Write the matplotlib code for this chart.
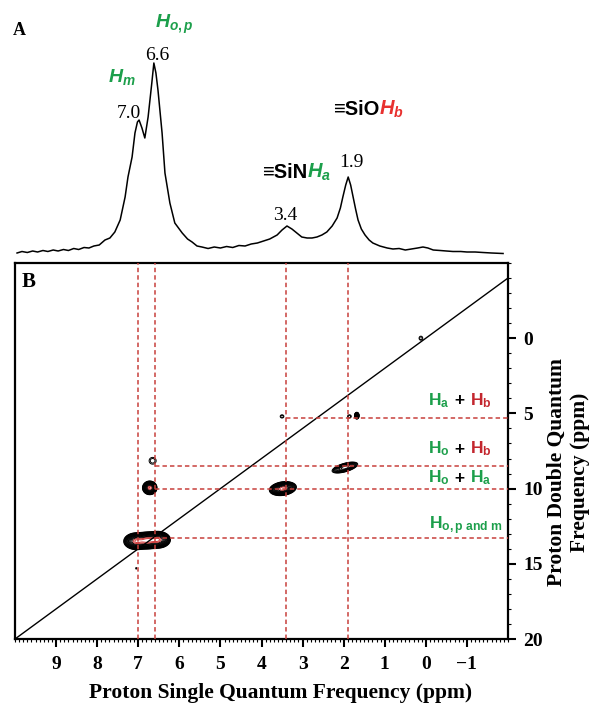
import numpy as np
import matplotlib
matplotlib.use("Agg")
import matplotlib.pyplot as plt
from matplotlib import transforms
from matplotlib.ticker import MultipleLocator

# ---- panel A: 1H MAS spectrum (ppm, intensity a.u.)
spec_ppm = [9.95, 9.83, 9.70, 9.57, 9.45, 9.32, 9.20, 9.07, 8.95, 8.82, 8.70, 8.57,
            8.45, 8.32, 8.20, 8.08, 7.95, 7.81, 7.69, 7.57, 7.44, 7.32, 7.25, 7.15,
            7.08, 7.02, 6.98, 6.91, 6.84, 6.76, 6.67, 6.62, 6.57, 6.52, 6.42, 6.35,
            6.23, 6.11, 5.93, 5.80, 5.69, 5.57, 5.45, 5.30, 5.15, 5.00, 4.85, 4.70,
            4.55, 4.40, 4.25, 4.10, 3.95, 3.80, 3.62, 3.50, 3.38, 3.26, 3.14, 3.02,
            2.89, 2.77, 2.65, 2.53, 2.41, 2.28, 2.16, 2.08, 2.02, 1.95, 1.89, 1.83,
            1.77, 1.71, 1.65, 1.57, 1.48, 1.38, 1.29, 1.12, 0.94, 0.80, 0.65, 0.50,
            0.35, 0.20, 0.07, -0.05, -0.18, -0.35, -0.50, -0.66, -0.85, -1.00, -1.20, -1.39,
            -1.60, -1.88]
spec_int = [0, 1.5, 0.5, 2, 1, 2.5, 1.5, 3, 2, 3.5, 2.5, 4.5,
            3.5, 5.5, 5, 7, 8, 13, 15, 21, 33, 56, 76, 96,
            120, 131, 133, 125, 115, 136, 170, 190, 180, 163, 120, 80,
            50, 30, 20, 14, 11, 7, 6, 4.5, 6, 5, 6.5, 5.5,
            7.5, 7, 9, 10, 12, 14, 18, 23, 27, 24, 20, 16,
            15, 15, 16, 18, 21, 27, 35, 45, 56, 68, 76, 68,
            56, 44, 33, 24, 18, 13, 10, 7, 5, 4, 4.5, 3,
            4, 5, 6, 5, 3, 2.5, 2, 1.5, 1.5, 1, 1, 0.5,
            0, -0.5]

# ---- panel B: DQ-SQ correlation peaks (SQ ppm, DQ ppm, widths, amplitude, tilt)
pk_sq = [7.05, 6.78, 6.52, 6.72, 6.65, 3.48, 1.97, 3.50, 1.86, 1.68, 0.12, 7.05]
pk_dq = [13.5, 13.45, 13.4, 9.95, 8.15, 10.0, 8.6, 5.2, 5.2, 5.15, 0.0, 15.3]
pk_wsq = [0.12, 0.12, 0.12, 0.07, 0.095, 0.13, 0.15, 0.05, 0.05, 0.025, 0.05, 0.02]
pk_wdq = [0.22, 0.22, 0.22, 0.18, 0.25, 0.18, 0.14, 0.12, 0.12, 0.1, 0.15, 0.08]
pk_amp = [1.0, 1.0, 1.0, 1.0, 0.06, 1.0, 0.35, 0.06, 0.06, 0.5, 0.06, 0.05]
pk_tilt = [0, 0, 0, 0, 0, 0.3, 0.7, 0, 0, 0, 0, 0]

sq_peaks = [7.0, 6.6, 3.4, 1.9]
dq_sums = [5.3, 8.5, 10.0, 13.3]
dq_from = [3.4, 6.6, 6.6, 6.6]

GREEN = "#1c9f4b"
RED_A = "#e8312f"
RED_B = "#c3262e"
DASH = "#c8403c"
SANS = ["Liberation Sans", "DejaVu Sans"]

plt.rcParams["font.family"] = ["Liberation Serif", "DejaVu Serif"]
plt.rcParams["font.weight"] = "bold"
plt.rcParams["mathtext.fontset"] = "custom"
plt.rcParams["mathtext.rm"] = "Liberation Sans:bold"
plt.rcParams["mathtext.bf"] = "Liberation Sans:bold"
plt.rcParams["mathtext.it"] = "Liberation Sans:italic:bold"


def put_parts(ax, x, y, parts, size):
    # draw coloured pieces one after another on a common baseline
    fig = ax.figure
    r = fig.canvas.get_renderer()
    tr = ax.transData
    for s, c in parts:
        t = ax.text(x, y, s, color=c, fontsize=size, family=SANS, weight="bold",
                    va="baseline", ha="left", transform=tr)
        w = t.get_window_extent(renderer=r).width
        tr = transforms.offset_copy(tr, fig=fig, x=w, y=0, units="dots")


fig = plt.figure(figsize=(5.92, 7.04), dpi=100)
axA = fig.add_axes([15 / 592, 446 / 704, 493 / 592, 258 / 704])
axB = fig.add_axes([15 / 592, 65 / 704, 493 / 592, 376 / 704])

# ---- A
axA.plot(spec_ppm, spec_int, color="black", lw=1.1)
axA.set_xlim(10, -2)
axA.set_ylim(-5, 253)
axA.axis("off")

axA.text(7.23, 135, "7.0", fontsize=14, fontweight="normal", ha="center", va="baseline")
axA.text(6.54, 193, "6.6", fontsize=14, fontweight="normal", ha="center", va="baseline")
axA.text(3.43, 33, "3.4", fontsize=14, fontweight="normal", ha="center", va="baseline")
axA.text(1.80, 86, "1.9", fontsize=14, fontweight="normal", ha="center", va="baseline")
put_parts(axA, 7.74, 171, [(r"$H_m$", GREEN)], 14)
put_parts(axA, 6.59, 225, [(r"$H_{o,p}$", GREEN)], 14)
put_parts(axA, 3.99, 75, [("\u2261SiN", "black"), (r"$H_a$", GREEN)], 14.5)
put_parts(axA, 2.26, 138, [("\u2261SiO", "black"), (r"$H_b$", RED_A)], 14.5)
fig.text(13 / 592, 1 - 35 / 704, "A", fontsize=13, fontweight="bold")

# ---- B
sq = np.arange(-2, 10.001, 0.008)
dq = np.arange(-5, 20.001, 0.025)
S, D = np.meshgrid(sq, dq)
Z = np.zeros_like(S)
for s0, d0, ws, wd, a, k in zip(pk_sq, pk_dq, pk_wsq, pk_wdq, pk_amp, pk_tilt):
    Z += a * np.exp(-((S - s0) ** 2 / (2 * ws ** 2)
                      + (D - d0 - k * (S - s0)) ** 2 / (2 * wd ** 2)))

axB.contour(S, D, Z, levels=np.geomspace(0.04, 0.7, 14),
            colors="black", linewidths=0.7)
axB.contour(S, D, Z, levels=[0.85, 1.0], colors="#d03a3a", linewidths=0.7)

axB.plot([10, -2], [20, -4], color="black", lw=1.0)
for p in sq_peaks:
    axB.axvline(p, color=DASH, lw=1.1, ls=(0, (2.9, 2.0)), zorder=3)
axB.hlines(dq_sums, dq_from, -2, color=DASH, lw=1.1, ls=(0, (2.9, 2.0)), zorder=3)

put_parts(axB, -0.054, 4.44, [(r"$\mathrm{H}_\mathrm{a}$", GREEN), (" + ", "black"),
                              (r"$\mathrm{H}_\mathrm{b}$", RED_B)], 12.5)
put_parts(axB, -0.054, 7.68, [(r"$\mathrm{H}_\mathrm{o}$", GREEN), (" + ", "black"),
                              (r"$\mathrm{H}_\mathrm{b}$", RED_B)], 12.5)
put_parts(axB, -0.054, 9.6, [(r"$\mathrm{H}_\mathrm{o}$", GREEN), (" + ", "black"),
                             (r"$\mathrm{H}_\mathrm{a}$", GREEN)], 12.5)
put_parts(axB, -0.078, 12.7, [(r"$\mathrm{H}_\mathrm{o,p\ and\ m}$", GREEN)], 12.5)

axB.set_xlim(10, -2)
axB.set_ylim(20, -5)
axB.set_xticks(range(9, -2, -1))
axB.xaxis.set_minor_locator(MultipleLocator(0.1))
axB.set_yticks([0, 5, 10, 15, 20])
axB.yaxis.set_minor_locator(MultipleLocator(1))
axB.yaxis.tick_right()
axB.yaxis.set_label_position("right")
axB.tick_params(axis="both", which="major", direction="out", length=6, width=1.5,
                labelsize=14)
axB.tick_params(axis="x", which="major", pad=6)
axB.tick_params(axis="y", which="major", pad=5)
axB.tick_params(axis="both", which="minor", direction="out", length=2.5, width=0.8)
axB.tick_params(axis="x", top=False)
axB.tick_params(axis="y", left=False, labelleft=False, right=True, labelright=True)
for sp in axB.spines.values():
    sp.set_linewidth(1.6)

axB.set_xlabel("Proton Single Quantum Frequency (ppm)", fontsize=15.5, fontweight="bold")
axB.xaxis.label.set_va("baseline")
axB.xaxis.set_label_coords(0.5385, -0.157)
axB.set_ylabel("Proton Double Quantum\nFrequency (ppm)", fontsize=15.5, fontweight="bold",
               rotation=90, linespacing=1.2)
axB.yaxis.label.set_va("center")
axB.yaxis.label.set_ha("center")
axB.yaxis.set_label_coords(1.1227, 0.444)
axB.text(0.0142, 0.936, "B", transform=axB.transAxes, fontsize=15, fontweight="bold")

fig.savefig("out.png", dpi=100)
